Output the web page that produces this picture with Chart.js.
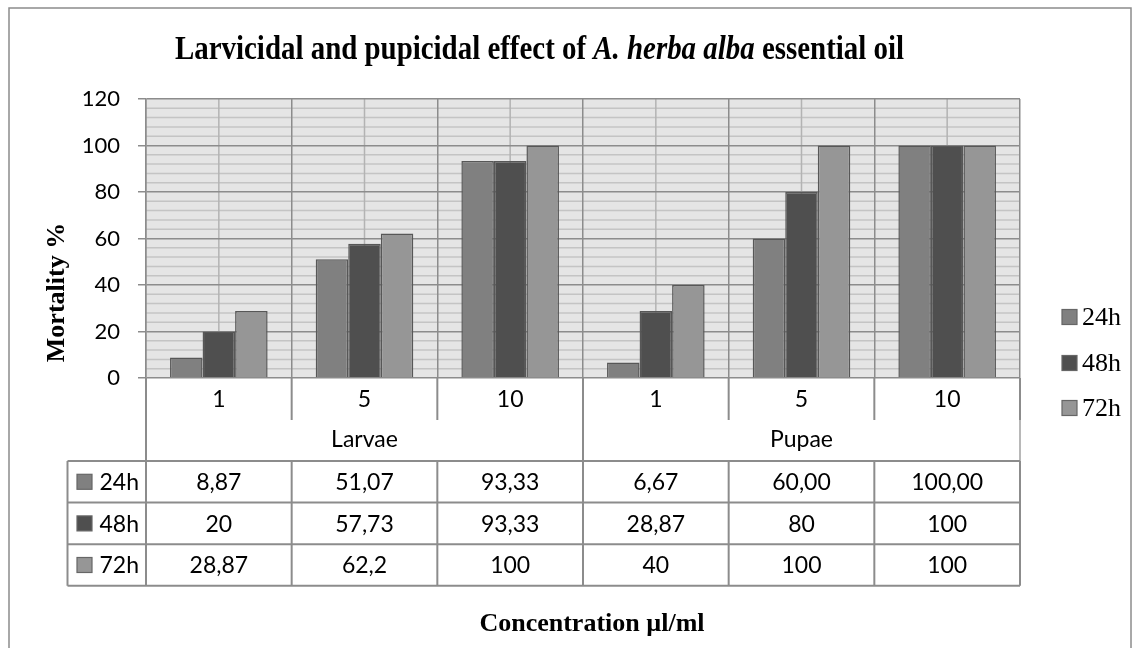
<!DOCTYPE html>
<html><head><meta charset="utf-8">
<script src="https://cdn.jsdelivr.net/npm/chart.js@4/dist/chart.umd.min.js"></script>
<style>html,body{margin:0;padding:0;background:#fff}#wrap{width:1140px;height:648px;position:relative}</style>
</head><body><div id="wrap"><canvas id="c" width="1140" height="648"></canvas></div>
<script>
const categories = ["1","5","10","1","5","10"];
const groups = ["Larvae","Pupae"];
const seriesNames = ["24h","48h","72h"];
const values24 = [8.87,51.07,93.33,6.67,60.00,100.00];
const values48 = [20,57.73,93.33,28.87,80,100];
const values72 = [28.87,62.2,100,40,100,100];
const text24 = ["8,87","51,07","93,33","6,67","60,00","100,00"];
const text48 = ["20","57,73","93,33","28,87","80","100"];
const text72 = ["28,87","62,2","100","40","100","100"];
const yMin = 0, yMax = 120, yStep = 20, yMinorStep = 4;
const titleParts = [["Larvicidal and pupicidal effect of ", false],["A. herba alba", true],[" essential oil", false]];
const yTitle = "Mortality %";
const xTitle = "Concentration µl/ml";

const colors = ["#808080","#4f4f4f","#969696"];
const SANS = "Lato, 'Open Sans', sans-serif";
const SERIF = "'Liberation Serif', 'Times New Roman', serif";
const LINE = "#8c8c8c";

const decor = {
  id: 'decor',
  beforeDraw(chart) {
    const ctx = chart.ctx, a = chart.chartArea, y = chart.scales.y, x = chart.scales.x;
    ctx.save();
    ctx.fillStyle = '#fff'; ctx.fillRect(0,0,chart.width,chart.height);
    ctx.strokeStyle = LINE; ctx.lineWidth = 1.5;
    ctx.strokeRect(9, 8, 1122, 700);
    ctx.fillStyle = '#e5e5e5';
    ctx.fillRect(a.left, a.top, a.right-a.left, a.bottom-a.top);
    ctx.strokeStyle = '#c4c4c4'; ctx.lineWidth = 1.5;
    for (let v = yMin; v <= yMax; v += yMinorStep) {
      if (v % yStep === 0) continue;
      const py = y.getPixelForValue(v);
      ctx.beginPath(); ctx.moveTo(a.left, py); ctx.lineTo(a.right, py); ctx.stroke();
    }
    ctx.strokeStyle = '#b3b3b3';
    for (let i = 0; i < categories.length; i++) {
      const px = x.getPixelForValue(i);
      ctx.beginPath(); ctx.moveTo(px, a.top); ctx.lineTo(px, a.bottom); ctx.stroke();
    }
    ctx.restore();
  },
  afterDraw(chart) {
    const ctx = chart.ctx, a = chart.chartArea, x = chart.scales.x;
    const w = x.getPixelForValue(1) - x.getPixelForValue(0);
    const bx = []; for (let k = 0; k <= categories.length; k++) bx.push(x.getPixelForValue(0) - w/2 + k*w);
    const tickRowB = 420, groupRowB = 461, rowH = 41.6, tableLeft = 67.5;
    const tableB = groupRowB + 3*rowH;
    ctx.save();
    ctx.strokeStyle = LINE; ctx.lineWidth = 2;
    const line = (x1,y1,x2,y2)=>{ctx.beginPath();ctx.moveTo(x1,y1);ctx.lineTo(x2,y2);ctx.stroke();};
    bx.forEach((px,k)=>{
      line(px, a.bottom, px, tickRowB);
      if (k % 3 === 0) {
        ctx.strokeStyle = (k === bx.length-1) ? '#b8b8b8' : LINE;
        line(px, tickRowB, px, groupRowB);
        ctx.strokeStyle = LINE;
      }
      line(px, groupRowB, px, tableB);
    });
    line(tableLeft, groupRowB, tableLeft, tableB);
    for (let r = 0; r <= 3; r++) line(tableLeft, groupRowB + r*rowH, bx[bx.length-1], groupRowB + r*rowH);
    // tick labels & groups
    ctx.fillStyle = '#000'; ctx.textAlign = 'center'; ctx.textBaseline = 'middle';
    ctx.font = `23px ${SANS}`;
    categories.forEach((c,i)=>ctx.fillText(c, x.getPixelForValue(i), 400));
    groups.forEach((g,j)=>ctx.fillText(g, (bx[j*3]+bx[j*3+3])/2, 440));
    // table rows
    const texts = [text24, text48, text72];
    texts.forEach((row, r)=>{
      const cy = groupRowB + r*rowH + rowH/2;
      row.forEach((t,i)=>{ ctx.textAlign='center'; ctx.fillText(t, x.getPixelForValue(i), cy+1); });
      ctx.fillStyle = colors[r]; ctx.fillRect(77, cy-7.5, 15, 15);
      ctx.strokeStyle = '#666'; ctx.lineWidth = 1.2; ctx.strokeRect(77, cy-7.5, 15, 15);
      ctx.fillStyle = '#000'; ctx.textAlign = 'left';
      ctx.fillText(seriesNames[r], 99.5, cy+1);
    });
    // legend
    const legY = [317, 363, 408];
    ctx.font = `26px ${SERIF}`;
    seriesNames.forEach((s,r)=>{
      ctx.fillStyle = colors[r]; ctx.fillRect(1062, legY[r]-7.5, 15, 15);
      ctx.strokeStyle = '#666'; ctx.lineWidth = 1.2; ctx.strokeRect(1062, legY[r]-7.5, 15, 15);
      ctx.fillStyle = '#000'; ctx.textAlign = 'left'; ctx.textBaseline = 'middle';
      ctx.fillText(s, 1082, legY[r]+1);
    });
    // axis titles
    ctx.font = `bold 26px ${SERIF}`;
    ctx.textAlign = 'center'; ctx.textBaseline = 'alphabetic';
    ctx.fillText(xTitle, 592, 631);
    ctx.save(); ctx.translate(64, 292.5); ctx.rotate(-Math.PI/2);
    ctx.fillText(yTitle, 0, 0); ctx.restore();
    // title (bold serif, width fitted to the reference span)
    const fs = 33;
    const fontFor = (it)=>`${it?'italic ':''}bold ${fs}px ${SERIF}`;
    let total = 0;
    titleParts.forEach(([t,it])=>{ ctx.font = fontFor(it); total += ctx.measureText(t).width; });
    const sx = 729 / total;
    ctx.save();
    ctx.translate(539.5 - 729/2, 59); ctx.scale(sx, 1);
    ctx.textAlign = 'left';
    let cx = 0;
    titleParts.forEach(([t,it])=>{ ctx.font = fontFor(it); ctx.fillText(t, cx, 0); cx += ctx.measureText(t).width; });
    ctx.restore();
    ctx.restore();
  }
};

new Chart(document.getElementById('c'), {
  type: 'bar',
  data: {
    labels: categories,
    datasets: [
      {label: seriesNames[0], data: values24, backgroundColor: colors[0]},
      {label: seriesNames[1], data: values48, backgroundColor: colors[1]},
      {label: seriesNames[2], data: values72, backgroundColor: colors[2]}
    ].map(d=>Object.assign(d,{borderColor:'#575757', borderWidth:1.5, categoryPercentage:0.67, barPercentage:1}))
  },
  options: {
    responsive: false, animation: false, devicePixelRatio: 1,
    layout: {padding: {left: 0, top: 99, right: 120, bottom: 270}},
    plugins: {legend: {display: false}, title: {display: false}, tooltip: {enabled: false}},
    scales: {
      x: {
        offset: true,
        grid: {offset: true, color: '#8c8c8c', lineWidth: 1.5, drawTicks: false},
        border: {display: false},
        ticks: {display: false},
        afterFit: s => { s.height = 0; }
      },
      y: {
        min: yMin, max: yMax,
        ticks: {stepSize: yStep, color: '#000', font: {family: SANS, size: 22}, padding: 18},
        grid: {color: '#8c8c8c', lineWidth: 1.5, tickLength: 8},
        border: {color: '#8c8c8c', width: 1.5},
        afterFit: s => { s.width = 146; }
      }
    }
  },
  plugins: [decor]
});
</script>
</body></html>
